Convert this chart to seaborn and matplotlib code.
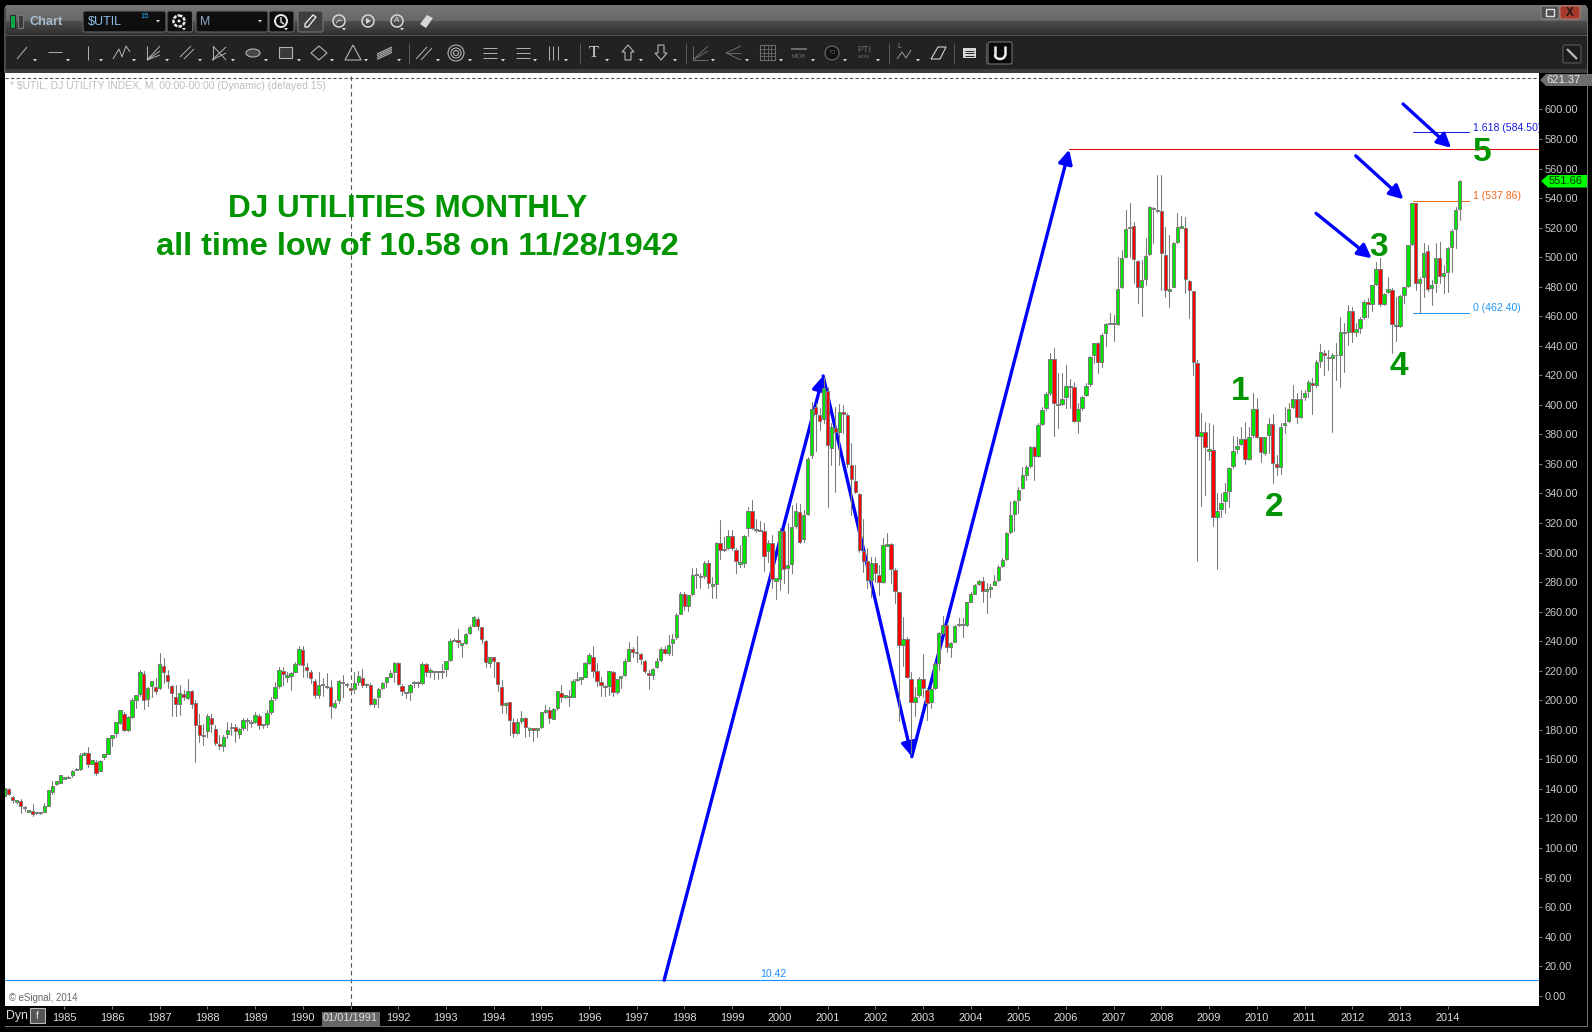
import numpy as np
import pandas as pd
import matplotlib
matplotlib.use("Agg")
import matplotlib.pyplot as plt
from matplotlib.patches import Rectangle, Polygon, Circle, Ellipse, FancyBboxPatch, Arc
import seaborn as sns

# ---- monthly candles, $UTIL, Oct 1983 .. Apr 2014 (month 0 = Jan 1991) ----
first_month = -87
directions = (
    "GRRGRRGRGG" "GGGGGGGGGG" "GRGRGGGGGG" "RGGGGRGGRG" "RRRRGRGRRR"
    "RGRRRGGGRG" "GRGGRGGGGG" "RGGGGRRRRG" "RGRGGGRRGG" "RGRGGGGGGR"
    "RGGGRGRGGG" "GGGGRGGGGR" "RRGRRRGRRG" "GRGRGGGRGG" "RGGGGGGGRR"
    "RGGRGGGGRG" "RRRGGGRGGG" "GRGGRGGRGG" "RGGRRGGGRR" "GRGRGGRGGG"
    "RGGGRRGRGR" "GRRRRRRRGR" "RGGRRRGRRG" "GRRGGGGRGG" "GRGGGGRGGG"
    "GGGGGGGGGR" "GGGGRGGGGR" "GGGGGRGGGR" "GGGGRRGGGR" "GRRGGGGRRR"
    "RGRGRGGGGG" "GGRGGRRGGR" "RGGGGRGGGR" "GGRRGGGGGR" "GGGRGGRGGR"
    "GGGGGRGGRG" "GRGGGGG"
)
body_tops = [
    140.4,139.7,134.8,132.3,132.1,128.0,125.5,125.1,124.4,124.4,
    128.7,139.1,141.8,145.2,149.2,147.9,148.3,152.4,153.7,162.8,
    164.1,164.6,159.4,158.5,159.2,163.4,174.3,176.3,185.1,193.2,
    191.0,189.0,200.0,203.4,219.0,217.6,208.6,212.9,209.3,224.4,
    223.5,216.9,209.5,202.5,205.2,204.5,206.6,206.6,198.4,183.5,
    176.8,189.6,188.3,180.8,170.2,175.4,180.1,182.2,182.0,180.8,
    186.9,186.9,185.6,190.1,189.4,183.8,191.7,200.0,209.3,220.8,
    220.1,216.9,218.7,224.4,234.5,234.3,222.8,219.0,212.9,210.6,
    211.3,209.7,209.3,198.0,212.9,212.6,211.3,208.4,212.0,216.7,
    215.4,211.3,210.6,201.1,207.9,212.0,215.6,218.3,225.5,225.5,
    209.9,205.4,210.6,212.7,212.7,224.8,224.8,220.3,219.9,219.9,
    220.1,226.4,240.0,241.1,241.1,238.6,244.7,249.4,256.2,255.3,
    249.4,240.4,229.1,229.1,225.7,209.3,198.4,198.7,185.1,185.6,
    188.3,188.3,181.0,181.0,181.3,191.9,193.2,193.2,193.9,206.1,
    205.2,203.4,203.2,213.3,214.5,215.8,225.0,230.5,229.6,220.1,
    212.7,209.7,219.6,219.4,214.2,216.3,226.4,235.0,235.0,232.5,
    231.6,226.9,218.7,221.4,226.4,235.0,235.0,237.7,241.8,258.0,
    272.2,272.2,271.1,285.1,285.8,284.2,293.2,293.2,278.5,306.3,
    306.3,302.7,311.5,311.5,302.0,293.5,311.0,328.4,328.4,316.2,
    315.3,314.9,306.3,306.3,282.6,314.4,314.9,291.4,317.2,328.0,
    327.8,325.3,363.1,397.4,398.3,392.9,411.7,409.6,385.3,384.6,
    395.4,395.4,392.9,359.1,348.7,339.4,300.8,294.1,293.2,293.2,
    285.0,304.9,305.6,305.6,288.0,273.1,241.7,241.7,214.6,202.4,
    214.6,214.6,207.0,207.4,224.3,245.3,250.7,250.7,239.0,250.0,
    251.9,251.9,266.3,271.7,277.8,280.5,280.5,275.1,276.9,280.5,
    290.0,294.8,313.0,325.2,334.7,342.6,352.3,357.7,371.3,371.3,
    386.2,396.8,407.2,431.3,431.3,400.6,404.2,413.0,413.0,411.9,
    397.0,405.6,413.0,432.6,441.7,442.1,447.5,455.0,455.7,455.4,
    478.7,499.7,518.8,520.7,521.1,497.6,484.3,501.0,534.2,533.5,
    532.0,531.5,501.7,478.2,509.8,520.7,520.9,519.5,484.1,476.9,
    428.1,381.4,381.4,369.9,369.2,328.4,333.8,340.8,357.0,369.0,
    372.4,376.7,376.7,378.5,397.4,397.4,378.0,378.0,387.3,387.3,
    360.2,384.8,387.9,397.4,404.2,404.2,404.2,408.3,415.3,414.8,
    428.8,435.6,435.3,432.6,434.0,434.0,449.6,449.1,463.8,463.8,
    451.1,458.4,469.9,469.9,480.9,491.8,491.8,475.1,478.7,477.8,
    454.1,473.5,479.6,508.0,536.5,536.5,485.5,503.0,504.4,481.4,
    499.2,499.7,489.5,506.0,518.0,531.7,551.4,
]
body_bottoms = [
    135.5,136.4,132.3,131.4,128.5,126.9,124.6,122.8,123.5,123.5,
    124.6,128.7,137.7,143.6,144.3,147.0,147.4,149.2,153.0,153.3,
    163.0,157.1,157.1,150.6,152.4,161.9,163.9,174.7,178.1,184.4,
    179.7,179.7,188.5,200.2,204.1,200.0,200.7,209.9,206.1,208.1,
    219.0,212.9,204.7,197.3,197.3,202.0,201.4,197.3,183.1,176.3,
    175.9,179.2,183.8,171.3,169.3,168.9,177.0,181.3,179.0,177.0,
    181.5,186.0,184.9,185.1,183.1,183.1,183.8,191.9,201.4,209.5,
    217.6,216.0,216.5,219.4,224.8,223.9,220.3,214.9,203.4,203.4,
    210.4,208.8,195.9,195.3,200.0,211.5,210.2,206.8,207.5,212.4,
    210.4,210.4,197.3,197.3,202.0,208.6,212.6,216.0,219.0,210.8,
    206.3,204.8,205.9,211.5,211.5,211.5,219.4,219.4,219.2,219.0,
    219.2,221.0,227.1,240.4,239.3,237.7,238.6,245.4,250.3,250.3,
    241.3,225.7,225.0,226.4,210.8,196.6,196.6,186.5,177.7,177.7,
    186.2,181.7,180.2,179.9,179.9,181.7,192.3,187.8,187.6,194.6,
    202.0,202.0,202.5,202.5,213.6,214.7,216.0,225.0,219.9,212.9,
    210.2,208.8,209.7,205.7,205.7,215.1,216.9,226.9,232.5,231.8,
    227.8,219.6,216.9,216.9,222.4,227.1,231.8,231.8,238.6,242.7,
    258.7,263.9,263.9,271.8,284.7,283.3,284.2,279.2,277.7,278.5,
    301.8,301.6,303.4,302.9,294.1,292.5,292.8,316.5,316.9,315.3,
    314.7,298.0,301.3,281.9,280.8,282.4,288.7,289.6,292.1,318.0,
    307.0,309.0,325.9,365.8,393.8,389.1,390.2,372.6,370.6,381.6,
    381.6,393.6,359.8,349.6,340.8,301.5,294.5,281.2,281.2,285.9,
    280.1,279.9,304.7,288.7,273.8,237.2,237.2,215.5,198.8,198.8,
    203.3,208.1,197.9,198.6,208.1,225.0,245.8,235.8,235.8,239.7,
    250.7,250.7,250.7,266.8,272.2,278.5,274.0,273.8,275.6,278.3,
    281.4,290.7,295.4,313.9,325.9,335.4,343.7,352.8,358.4,365.4,
    365.2,387.0,397.7,407.8,401.0,399.7,400.4,405.1,412.3,388.8,
    388.8,397.7,406.5,413.9,433.5,429.0,429.0,448.4,455.0,454.5,
    454.8,479.6,500.3,519.5,498.5,479.8,479.6,485.0,501.9,532.4,
    531.3,502.6,477.8,477.3,480.0,510.5,520.0,485.0,477.8,428.8,
    378.9,378.9,371.2,369.0,323.9,323.9,329.3,334.7,341.5,358.6,
    369.9,373.3,363.1,363.1,379.4,378.5,367.9,367.2,379.4,360.9,
    357.9,357.9,386.1,389.3,398.3,391.6,391.6,405.1,409.6,413.2,
    413.2,429.5,433.8,431.7,431.7,433.5,433.8,448.7,449.3,449.6,
    449.3,451.8,459.3,468.5,468.5,481.8,468.3,468.3,476.4,454.8,
    453.4,453.4,474.2,480.3,508.7,482.3,482.3,486.8,478.2,479.4,
    482.3,487.3,487.3,490.2,506.7,518.9,532.4,
]
highs = [
    140.8,140.4,135.2,132.5,133.0,128.2,125.7,129.8,124.6,124.6,
    130.7,139.3,145.4,145.6,149.5,148.2,148.6,152.8,154.0,164.1,
    165.2,168.6,159.8,159.6,159.6,163.8,174.7,176.7,185.5,193.6,
    192.1,189.3,201.4,203.6,220.5,220.1,209.0,213.1,214.9,231.8,
    228.4,220.5,210.4,210.4,210.4,207.0,214.5,207.0,200.2,190.8,
    184.0,190.5,190.5,183.3,176.5,176.5,185.1,184.4,184.0,181.2,
    187.8,188.3,186.7,191.9,190.5,184.0,193.5,202.0,212.6,222.8,
    222.8,219.4,219.0,226.2,236.8,236.8,225.0,220.5,214.2,219.4,
    214.9,218.3,213.8,200.2,213.8,217.2,211.6,210.4,219.4,219.9,
    221.0,211.6,211.5,201.4,208.2,212.4,216.0,220.5,226.2,226.0,
    210.9,205.6,211.0,213.0,213.0,225.7,225.0,221.7,220.1,220.1,
    224.4,226.8,241.3,242.0,248.3,238.8,245.4,251.0,257.1,256.2,
    249.7,240.6,229.6,229.4,226.0,213.8,198.6,198.9,187.8,187.2,
    192.6,188.6,182.2,181.2,181.5,192.1,196.8,195.7,195.0,206.5,
    210.4,203.6,207.0,214.5,219.4,216.0,226.2,231.8,236.8,225.5,
    215.6,210.0,220.0,219.6,214.5,216.5,228.4,239.3,236.3,243.6,
    232.0,227.2,220.5,221.7,228.9,236.3,237.0,244.3,244.9,258.9,
    273.6,273.6,271.4,289.4,289.4,286.5,294.6,295.0,283.7,307.4,
    322.1,310.8,315.3,315.3,302.9,305.2,312.0,331.1,335.7,322.6,
    321.7,319.9,308.6,311.9,282.8,316.5,316.5,319.9,332.3,333.4,
    333.0,328.9,364.5,402.2,401.5,397.7,419.1,412.3,387.5,398.8,
    400.6,399.9,394.3,374.0,359.3,340.6,322.5,302.9,297.2,297.2,
    291.6,309.7,313.0,306.7,289.3,273.5,256.6,243.1,219.4,209.2,
    216.0,231.3,208.1,209.2,226.1,246.5,257.1,252.1,239.2,250.7,
    255.5,255.5,266.6,273.5,278.7,281.4,283.2,279.2,278.7,284.8,
    291.6,296.1,314.2,335.2,335.6,344.6,358.2,359.3,372.2,372.2,
    388.0,398.8,409.0,435.0,438.3,421.4,421.4,427.0,417.3,415.7,
    401.0,406.0,414.6,433.2,442.1,442.8,448.4,455.7,462.4,460.8,
    500.3,504.9,531.9,536.5,524.0,498.1,498.1,512.8,534.4,534.0,
    555.6,555.6,520.7,515.0,510.5,529.7,527.9,527.0,484.5,477.3,
    430.4,394.3,388.6,387.5,386.4,340.1,340.1,346.9,358.2,378.9,
    378.5,385.2,388.6,385.2,407.8,404.4,378.5,378.3,390.9,393.8,
    366.0,387.5,398.3,401.5,413.4,407.8,410.0,410.0,416.8,418.0,
    430.4,441.2,437.1,437.1,434.9,441.7,459.7,455.2,467.6,466.5,
    455.2,459.7,471.0,472.1,481.2,497.0,499.2,476.0,486.8,478.9,
    473.3,474.4,480.0,508.3,536.9,537.0,486.8,509.8,508.2,484.5,
    509.4,510.5,494.7,506.7,518.9,534.2,552.3,
]
lows = [
    135.0,136.0,130.7,130.7,123.9,125.3,124.4,121.7,123.3,123.3,
    124.4,128.5,136.6,142.7,144.0,146.8,147.2,147.9,152.8,153.0,
    162.8,155.1,156.9,149.7,152.0,160.1,163.6,169.1,175.4,184.2,
    179.5,179.5,188.3,194.6,203.0,194.4,196.2,202.5,204.3,207.9,
    211.5,208.1,189.6,189.6,190.1,200.2,201.0,194.6,158.5,172.0,
    169.8,175.4,178.8,169.8,166.8,165.9,174.3,176.5,172.0,174.3,
    179.9,179.9,182.2,184.9,180.6,181.0,182.2,190.8,200.2,208.1,
    210.4,212.6,207.0,219.0,223.9,215.6,215.6,211.5,201.4,201.8,
    203.0,208.1,188.3,194.6,198.4,202.5,209.3,205.9,204.7,210.4,
    209.3,209.3,196.8,195.3,195.7,207.9,209.3,215.8,212.6,210.4,
    203.8,201.4,200.2,208.8,208.8,211.2,216.5,216.0,214.5,214.5,
    214.9,216.7,226.9,240.2,236.3,229.6,238.4,245.2,250.0,247.6,
    238.6,222.4,222.4,216.0,206.6,191.7,191.7,176.5,175.4,177.2,
    184.4,175.4,175.9,172.7,175.4,181.5,191.2,184.9,187.2,193.5,
    199.1,201.8,196.2,202.0,213.3,211.0,215.8,224.8,216.0,209.7,
    203.0,203.0,203.6,203.0,204.3,208.1,216.7,226.7,229.6,226.2,
    224.6,218.3,207.7,214.2,221.7,226.9,231.4,230.7,230.9,241.3,
    258.5,261.2,260.7,271.4,275.8,275.8,282.6,275.8,269.1,269.1,
    295.7,300.9,302.5,301.8,286.5,290.5,290.5,311.3,315.8,314.2,
    314.4,287.8,293.9,275.8,268.8,274.7,279.2,272.5,286.5,316.5,
    306.3,307.4,325.5,363.8,369.0,383.0,387.5,331.1,359.3,341.2,
    359.3,380.7,358.2,325.4,340.1,300.6,287.1,276.2,270.2,280.3,
    271.3,279.2,304.4,279.2,265.6,186.2,223.2,214.9,164.0,189.4,
    202.5,202.0,186.6,194.5,207.4,220.5,244.9,232.9,229.5,239.5,
    250.5,243.1,250.5,266.5,272.0,278.3,266.8,259.3,270.2,278.0,
    281.0,290.5,295.2,313.5,314.8,326.6,342.8,349.1,358.2,349.1,
    365.0,386.4,396.6,407.0,378.9,384.1,400.2,397.7,397.7,388.6,
    381.2,396.5,406.3,412.8,428.1,421.8,425.9,439.9,454.8,443.5,
    454.3,479.4,499.9,500.3,482.3,468.8,460.2,481.2,501.5,509.4,
    530.8,477.8,473.3,466.5,479.6,509.4,519.5,476.0,458.6,420.2,
    294.5,331.8,339.0,362.7,318.0,288.6,324.3,326.6,331.0,357.0,
    367.2,373.0,360.0,362.7,378.5,377.3,361.5,366.0,367.2,346.9,
    352.5,353.2,380.7,388.6,397.7,387.5,390.9,403.3,405.6,393.8,
    412.3,425.9,420.2,423.6,381.9,416.8,411.9,422.5,440.5,442.8,
    446.6,448.4,457.9,459.3,463.8,481.2,466.9,467.6,475.5,435.3,
    443.5,453.0,468.8,480.0,508.5,477.8,462.0,472.8,477.3,467.6,
    476.6,482.3,476.0,476.6,490.2,506.0,525.2,
]
assert len(directions) == len(body_tops) == len(body_bottoms) == len(highs) == len(lows) == 367

# ---- chart levels and labels ----
y_tick_values = list(range(0, 601, 20))
year_labels = list(range(1985, 2015))
fib_levels = [584.50, 537.86, 462.40]
fib_texts = ["1.618 (584.50)", "1 (537.86)", "0 (462.40)"]
fib_colors = ["#1a1ae6", "#f26a1b", "#2196f3"]
resistance = 573.1
low_level = 10.42
high_level = 621.37
last_price = 551.66
big_arrows = [((78.9, 10.42), (118.9, 419.6)), ((118.9, 419.6), (141.2, 161.8)), ((141.2, 161.8), (180.8, 572.8))]
small_arrows = [((264.8, 603.7), (276.9, 574.0)), ((252.9, 568.6), (264.9, 539.2)), ((242.9, 529.7), (256.9, 499.2))]
wave_labels = [("1", 223.8, 408.8), ("2", 232.3, 330.2), ("3", 258.7, 506.3), ("4", 263.8, 426.0), ("5", 284.6, 570.6)]
title_lines = [("DJ UTILITIES MONTHLY", 14.4, 532.6, 22.7), ("all time low of 10.58 on 11/28/1942", 16.8, 506.9, 23.4)]

sns.set_theme(style="white")
plt.rcParams["font.family"] = ["Liberation Sans", "DejaVu Sans"]

W, H = 1592, 1032
fig = plt.figure(figsize=(W / 100, H / 100), dpi=100, facecolor="black")

# ---- window chrome (pixel space) ----
bg = fig.add_axes([0, 0, 1, 1], zorder=0)
bg.set_xlim(0, W); bg.set_ylim(H, 0); bg.axis("off")
bg.set_facecolor("black")
def rect(x0, y0, x1, y1, fc="none", ec="none", lw=0.7, z=2):
    bg.add_patch(Rectangle((x0, y0), x1 - x0, y1 - y0, fc=fc, ec=ec, lw=lw, zorder=z))
def box(x0, y0, x1, y1, fc="#0e0e0e", ec="#666666", lw=0.8, z=2):
    bg.add_patch(FancyBboxPatch((x0 + 2, y0 + 2), x1 - x0 - 4, y1 - y0 - 4, boxstyle="round,pad=2,rounding_size=2",
                                fc=fc, ec=ec, lw=lw, zorder=z, mutation_aspect=1))
ICON = "#b4b4b4"
def seg(xs, ys, c=ICON, lw=0.7, z=3):
    bg.plot(xs, ys, color=c, lw=lw, zorder=z, solid_capstyle="butt")
def tri(x, y=60, c="#d8d8d8"):
    bg.add_patch(Polygon([(x - 2, y - 1), (x + 2, y - 1), (x, y + 1.5)], fc=c, ec="none", zorder=3))

top_grad = np.concatenate([np.linspace(0.46, 0.40, 16), np.linspace(0.30, 0.19, 14)])[:, None]
bg.imshow(top_grad, extent=(5, 1587, 35, 5), cmap="gray", vmin=0, vmax=1, aspect="auto", zorder=1)
bg.set_xlim(0, W); bg.set_ylim(H, 0)
rect(5, 35, 1587, 36, fc="#505050")
rect(5, 36, 1587, 69, fc="#222222")
rect(5, 69, 1587, 73, fc="#3c3c3c")
rect(4, 8, 5.5, 73, fc="#4a4a4a")
rect(1586.5, 8, 1588, 1026, fc="#6e6e6e")
rect(5, 1025.5, 1588, 1027, fc="#6e6e6e")
for cx, cy, ang in [(9, 9, 180), (1583, 9, 0)]:
    bg.add_patch(Polygon([(cx - 5 if ang else cx + 5, cy - 5), (cx - 5 if ang else cx + 5, cy - 1),
                          (cx - 2 if ang else cx + 2, cy - 5)], fc="black", ec="none", zorder=2))

rect(10, 15, 15, 28, fc="#0aa84a", ec="#2a2a2a")
rect(18, 15, 23, 28, fc="#3c3c3c", ec="#7a7a7a")
bg.text(30, 22, "Chart", color="#a9bdd0", fontsize=9.2, fontweight="bold", va="center")
box(83, 11, 166, 32)
bg.text(88, 22, "$UTIL", color="#8fbbe6", fontsize=9, va="center")
bg.text(140, 16, "15", color="#1fb0ff", fontsize=5.5, va="center")
tri(158, 21)
box(167, 11, 192.5, 32)
bg.add_patch(Circle((179, 21), 5.5, fc="none", ec="#e8e8e8", lw=1.8, ls=(0, (1.4, 0.5)), zorder=3))
bg.add_patch(Circle((179, 21), 1.5, fc="#e8e8e8", ec="none", zorder=3))
tri(184, 29)
box(196, 11, 268, 32)
bg.text(200, 22, "M", color="#8fa9c6", fontsize=8.8, va="center")
tri(260, 21)
box(269, 11, 294, 32)
bg.add_patch(Circle((281, 21), 6, fc="none", ec="#e8e8e8", lw=1.4, zorder=3))
seg([281, 281, 284], [17, 22, 24], c="#e8e8e8", lw=1)
tri(286, 29)
box(298, 11, 323, 32, fc="#3e3e3e", ec="#767676")
bg.add_patch(Polygon([(305, 27), (305, 24), (313, 15), (316, 17), (308, 27)], fc="none", ec="#e8e8e8", lw=1, zorder=3))
for cx in (339, 368, 397):
    bg.add_patch(Circle((cx, 21), 6, fc="none", ec="#d8d8d8", lw=1.1, zorder=3))
seg([336, 339, 342], [23, 20, 21], c="#d8d8d8")
tri(344, 29)
bg.add_patch(Polygon([(366, 18), (366, 24), (371, 21)], fc="#d8d8d8", ec="none", zorder=3))
bg.text(397, 21, "A", color="#d8d8d8", fontsize=6, ha="center", va="center")
tri(402, 29)
bg.add_patch(Polygon([(420, 24), (427, 15), (433, 18), (426, 28)], fc="#d8d8d8", ec="none", zorder=3))
box(1541, 6, 1559, 19, fc="#505050", ec="#8a8a8a")
seg([1546, 1546, 1554, 1554, 1546], [9, 16, 16, 9, 9], c="#e0e0e0", lw=1)
box(1560, 6, 1580, 19, fc="#a83a2c", ec="#b87a70")
bg.text(1570, 12.5, "X", color="#1c1c1c", fontsize=8.5, fontweight="bold", ha="center", va="center")

# toolbar icons
seg([17, 27], [59, 47]); tri(35)
seg([48, 62], [52, 52]); tri(68)
seg([88, 88], [46, 60]); tri(101)
seg([113, 119, 122, 126, 130], [59, 49, 57, 46, 52]); tri(134)
for dy in (46, 51, 55): seg([147, 160], [60, dy])
seg([147, 147], [46, 60]); tri(167)
seg([180, 191], [57, 46]); seg([184, 194], [59, 49]); tri(200)
for dy in (47, 53): seg([212, 226], [60, dy])
seg([213, 226], [46, 60]); seg([213, 213], [46, 60]); tri(233)
bg.add_patch(Ellipse((253, 53), 14, 8, fc="#484848", ec=ICON, lw=0.8, zorder=3)); tri(266)
rect(279, 47, 292, 58, fc="#3a3a3a", ec=ICON, lw=0.8, z=3); tri(299)
bg.add_patch(Polygon([(319, 46), (327, 53), (319, 60), (311, 53)], fc="none", ec=ICON, lw=0.8, zorder=3)); tri(332)
bg.add_patch(Polygon([(353, 45), (361, 60), (345, 60)], fc="none", ec=ICON, lw=0.8, zorder=3)); tri(366)
for d in (0, 3, 6, 9): seg([377, 392], [54 + d * 0.6, 47 + d * 0.6], lw=0.8)
tri(399)
seg([408.5, 408.5], [43, 64], c="#5a5a5a")
seg([416, 427], [59, 47]); seg([421, 432], [60, 48]); tri(438)
for r in (8, 5, 2.5):
    bg.add_patch(Circle((456, 53), r, fc="none", ec=ICON, lw=0.8, zorder=3))
tri(470)
for yy in (48, 53, 58): seg([483, 497], [yy, yy])
tri(503)
for yy in (48, 53, 58): seg([516, 530], [yy, yy])
tri(535)
for xx in (549, 553, 558): seg([xx, xx], [46, 60])
tri(566)
seg([579.5, 579.5], [43, 64], c="#5a5a5a")
bg.text(594, 53, "T", color="#d4d4d4", fontsize=12, family="Liberation Serif", ha="center", va="center")
tri(607)
bg.add_patch(Polygon([(628, 45), (634, 52), (631, 52), (631, 60), (625, 60), (625, 52), (622, 52)], fc="none", ec=ICON, lw=0.8, zorder=3)); tri(641)
bg.add_patch(Polygon([(661, 60), (667, 53), (664, 53), (664, 45), (658, 45), (658, 53), (655, 53)], fc="none", ec=ICON, lw=0.8, zorder=3)); tri(675)
seg([685.5, 685.5], [43, 64], c="#5a5a5a")
DIM = "#6c6c6c"
for dy in (46, 51): seg([693, 708], [60, dy], c=DIM)
seg([693, 693, 708], [46, 60, 60], c=DIM); tri(713)
for dy in (46, 53, 60): seg([726, 741], [53, dy], c=DIM)
tri(747)
rect(760, 45, 775, 60, fc="#1c1c1c", ec=DIM, lw=0.8, z=3)
for k in (1, 2, 3):
    seg([760, 775], [45 + k * 3.75] * 2, c=DIM, lw=0.6); seg([760 + k * 3.75] * 2, [45, 60], c=DIM, lw=0.6)
tri(781)
rect(791, 48, 807, 50, fc=DIM); bg.text(799, 56, "MOB", color=DIM, fontsize=4.5, ha="center", va="center"); tri(813)
bg.add_patch(Circle((832, 53), 7, fc="#111111", ec=DIM, lw=0.8, zorder=3))
bg.text(832, 53, "TJ", color=DIM, fontsize=4.5, ha="center", va="center"); tri(845)
bg.text(864, 49, "PTI", color=DIM, fontsize=6.5, ha="center", va="center")
bg.text(864, 57, "xxxx", color=DIM, fontsize=4.5, ha="center", va="center"); tri(878)
seg([888.5, 888.5], [43, 64], c="#5a5a5a")
seg([897, 902, 906, 911], [59, 52, 58, 50], c="#999999"); bg.text(899, 47, "L", color="#999999", fontsize=5, ha="center", va="center"); tri(918)
bg.add_patch(Polygon([(931, 59), (938, 47), (946, 47), (940, 59)], fc="none", ec="#d4d4d4", lw=0.8, zorder=3))
seg([953.5, 953.5], [43, 64], c="#5a5a5a")
rect(963, 48, 976, 58, fc="#d8d8d8", z=3)
for yy in (50.5, 53, 55.5): seg([965, 974], [yy, yy], c="#262626", lw=0.7, z=4)
seg([985.5, 985.5], [43, 64], c="#5a5a5a")
box(988, 42, 1012, 64, fc="#0a0a0a", ec="#707070")
seg([995, 995], [46, 55], c="#eeeeee", lw=1.8); seg([1005, 1005], [46, 55], c="#eeeeee", lw=1.8)
bg.add_patch(Arc((1000, 55), 10, 8, theta1=0, theta2=180, ec="#eeeeee", lw=1.8, zorder=3))
box(1563, 45, 1581, 63, fc="#1c1c1c", ec="#5a5a5a")
seg([1567, 1577], [49, 59], c="#bbbbbb", lw=1.6)

# time-axis widgets
bg.text(6, 1016, "Dyn", color="#dddddd", fontsize=8.8, va="center")
rect(30, 1008, 45, 1023, fc="#555555", ec="#bbbbbb", lw=0.8)
bg.text(37.5, 1016, "f", color="#eeeeee", fontsize=7, ha="center", va="center")
rect(322, 1012, 380, 1026, fc="#666666", z=2)
# price flags
bg.add_patch(Polygon([(1540, 80), (1546, 74), (1592, 74), (1592, 86), (1546, 86)], fc="#6e6e6e", ec="none", zorder=2))
bg.add_patch(Polygon([(1541, 181), (1548, 175), (1587, 175), (1587, 187.5), (1548, 187.5)], fc="#00ff00", ec="none", zorder=2))

# ---- main price axes ----
ax = fig.add_axes([5 / W, (H - 1006) / H, (1539 - 5) / W, (1006 - 73) / H], zorder=1, facecolor="white")

months = np.arange(first_month, first_month + len(body_tops))
frame = pd.DataFrame({"month": months, "top": body_tops, "bottom": body_bottoms,
                      "high": highs, "low": lows, "dir": list(directions)})
frame["size"] = frame["top"] - frame["bottom"]
wicks = frame.melt(id_vars="month", value_vars=["high", "low"], value_name="price")

sns.lineplot(data=wicks, x="month", y="price", units="month", estimator=None, color="#7a7a7a",
             lw=0.75, ax=ax, legend=False, zorder=2, sort=False)
for code, col in (("G", "#00e600"), ("R", "#ff0000")):
    part = frame[frame["dir"] == code]
    sns.barplot(data=part, x="month", y="size", bottom=part["bottom"].to_numpy(), native_scale=True,
                width=0.85, color=col, saturation=1, edgecolor="#7a7a7a", linewidth=0.72,
                errorbar=None, estimator="sum", ax=ax, zorder=3)

px_per_month, x_jan91 = 3.975, 350.5
ax.set_xlim((5 - x_jan91) / px_per_month, (1539 - x_jan91) / px_per_month)
ax.set_ylim(-7.0, 624.7)
ax.set_xlabel(""); ax.set_ylabel("")
ax.grid(False)
for sp in ax.spines.values():
    sp.set_visible(False)

ax.yaxis.tick_right()
ax.set_yticks(y_tick_values)
ax.set_yticklabels([f"{v:.2f}" for v in y_tick_values])
ax.tick_params(axis="y", right=True, length=2.5, width=0.7, color="#8a8a8a", labelcolor="#c8c8c8",
               labelsize=7.9, pad=1.5)
ax.set_xticks([(y - 1991) * 12 for y in year_labels])
ax.set_xticklabels(["01/01/1991" if y == 1991 else str(y) for y in year_labels])
ax.tick_params(axis="x", bottom=True, length=2, width=0.7, color="#8a8a8a", labelcolor="#dedede",
               labelsize=7.9, pad=3)

# reference lines
ax.axhline(high_level, color="#555555", lw=0.8, ls=(0, (3, 2)), zorder=4)
ax.axvline(0, color="#555555", lw=0.8, ls=(0, (4, 3)), zorder=1.5)
ax.axhline(low_level, color="#1e90ff", lw=0.85, zorder=1.5)
ax.plot([180.8, 299], [resistance, resistance], color="#e80808", lw=0.75, zorder=1.6)
ax.text(106.3, low_level + 4.5, f"{low_level:.2f}", color="#1e90ff", fontsize=7.6, ha="center", va="center")

# Fibonacci block
for lev, txt, col in zip(fib_levels, fib_texts, fib_colors):
    ax.plot([267.4, 281.3], [lev, lev], color=col, lw=0.75, zorder=1.6)
    ax.text(282.3, lev + 3.3, txt, color=col, fontsize=7.6, va="center", clip_on=True)

# blue arrows
arrow_style = dict(arrowstyle="-|>,head_length=0.55,head_width=0.28", color="#0000ff", lw=2.4,
                   shrinkA=0, shrinkB=0, mutation_scale=15)
for start, tip in big_arrows:
    ax.annotate("", xy=tip, xytext=start, zorder=1.8, arrowprops=arrow_style)
for start, tip in small_arrows:
    ax.annotate("", xy=tip, xytext=start, zorder=5, arrowprops=arrow_style)

# annotations
GREEN = "#009400"
for txt, m, v, size in title_lines:
    ax.text(m, v, txt, color=GREEN, fontsize=size, fontweight="bold", ha="center", va="center", zorder=6)
for lab, m, v in wave_labels:
    ax.text(m, v, lab, color=GREEN, fontsize=24, fontweight="bold", ha="center", va="center", zorder=6)

ax.text(5 / (1539 - 5), 1 - (86 - 73) / 933, "* $UTIL, DJ UTILITY INDEX, M, 00:00-00:00 (Dynamic) (delayed 15)",
        transform=ax.transAxes, color="#bdbdbd", fontsize=7.5, va="center")
ax.text(4 / (1539 - 5), (1006 - 998) / 933, "\u00a9 eSignal, 2014", transform=ax.transAxes, color="#666666",
        fontsize=6.9, va="center")

# flag values
trans = ax.get_yaxis_transform()
ax.text(1.0045, high_level - 1.3, f"{high_level:.2f}", transform=trans, color="#e6e6e6", fontsize=8, va="center", clip_on=False)
ax.text(1.0065, last_price, f"{last_price:.2f}", transform=trans, color="#0a2a0a", fontsize=8, va="center", clip_on=False)

fig.savefig("out.png", dpi=100, facecolor="black")
